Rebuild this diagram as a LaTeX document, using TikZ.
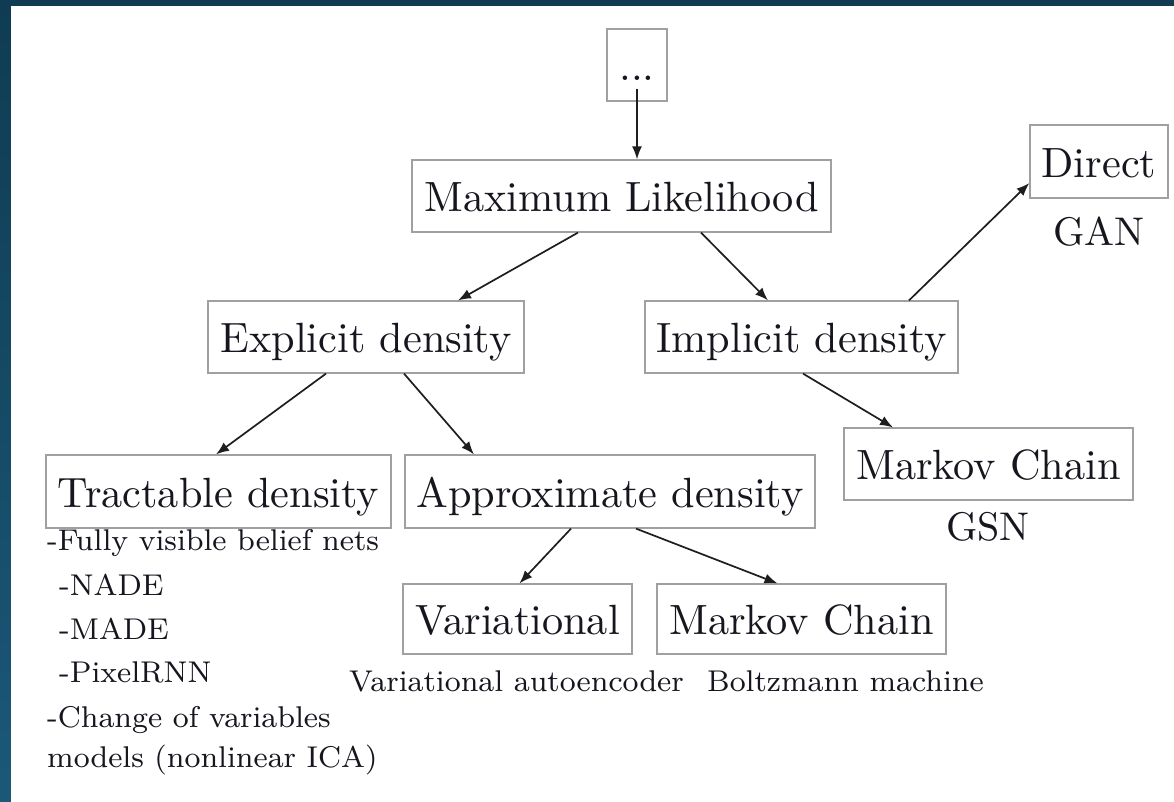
\documentclass[tikz,border=0pt]{standalone}
\usepackage{fontspec}
\setmainfont{lmroman10-regular}[Extension=.otf]
\newfontfamily\noterm{lmroman8-regular}[Extension=.otf]
\usetikzlibrary{arrows.meta}
\definecolor{bgtop}{HTML}{0F3C52}
\definecolor{bgbot}{HTML}{1B5878}
\definecolor{boxline}{HTML}{A0A0A0}
\definecolor{ink}{HTML}{16161F}
\definecolor{edge}{HTML}{1E1E1E}
\begin{document}
\begin{tikzpicture}[x=1pt,y=-1pt,
  box/.style={draw=boxline, line width=1.2pt, inner sep=0pt,
    text height=31pt, text depth=0pt, text=ink,
    font=\fontsize{42.3}{50}\selectfont},
  tag/.style={anchor=base, inner sep=0pt, text=ink,
    font=\fontsize{40}{48}\selectfont},
  small/.style={inner sep=0pt, text=ink,
    font=\noterm\fontsize{30}{36}\selectfont},
  arr/.style={draw=edge, line width=1.7pt, -{Latex[length=13pt,width=10pt]}}]

% frame and page
\useasboundingbox (0,0) rectangle (1174,801);
\shade[top color=bgtop, bottom color=bgbot] (0,0) rectangle (1174,801);
\fill[white] (11,6) rectangle (1180,810);

% boxes
\node[box, minimum width=60pt,  minimum height=72pt] (dots) at (637,65) {...};
\node[box, minimum width=419pt, minimum height=72pt] (ml) at (621.5,196) {Maximum Likelihood};
\node[box, minimum width=316pt, minimum height=72pt] (explicit) at (366,337) {Explicit density};
\node[box, minimum width=313pt, minimum height=72pt] (implicit) at (801.5,337) {Implicit density};
\node[box, minimum width=138pt, minimum height=73pt] (direct) at (1099,161.5) {Direct};
\node[box, minimum width=345pt, minimum height=73pt] (tractable) at (218.5,491.5) {Tractable density};
\node[box, minimum width=410pt, minimum height=73pt] (approx) at (610,491.5) {Approximate density};
\node[box, minimum width=289pt, minimum height=72pt] (markovA) at (988.5,464) {Markov Chain};
\node[box, minimum width=229pt, minimum height=70pt] (variational) at (517.5,619) {Variational};
\node[box, minimum width=289pt, minimum height=70pt] (markovB) at (801.5,619) {Markov Chain};

% labels under boxes
\node[tag] (gan) at (1099,245) {GAN};
\node[tag] (gsn) at (988,540) {GSN};
\node[small, anchor=base] (vae) at (516.5,691) {Variational autoencoder};
\node[small, anchor=base] (boltz) at (845.5,691) {Boltzmann machine};

% tractable density models
\node[small, anchor=base west] (fvbn) at (47,550) {-Fully visible belief nets};
\node[small, anchor=base west] (nade) at (59,595) {-NADE};
\node[small, anchor=base west] (made) at (59,639) {-MADE};
\node[small, anchor=base west] (pixel) at (59,682) {-PixelRNN};
\node[small, anchor=base west] (change) at (47,727) {-Change of variables};
\node[small, anchor=base west] (ica) at (47,767) {models (nonlinear ICA)};

% connectors
\draw[arr] ([yshift=13pt]dots.south) -- (dots.south |- ml.north);
\draw[arr] ([xshift=-43.5pt]ml.south) -- ([xshift=92pt]explicit.north);
\draw[arr] ([xshift=79.5pt]ml.south) -- ([xshift=-33.5pt]implicit.north);
\draw[arr] ([xshift=107.5pt]implicit.north) -- ([yshift=-21.5pt]direct.west);
\draw[arr] ([xshift=1.5pt]implicit.south) -- ([xshift=-95.5pt]markovA.north);
\draw[arr] ([xshift=-40pt]explicit.south) -- ([xshift=-2.5pt]tractable.north);
\draw[arr] ([xshift=38pt]explicit.south) -- ([xshift=-136pt]approx.north);
\draw[arr] ([xshift=-39pt]approx.south) -- ([xshift=2pt]variational.north);
\draw[arr] ([xshift=26pt]approx.south) -- ([xshift=-24pt]markovB.north);
\end{tikzpicture}
\end{document}
